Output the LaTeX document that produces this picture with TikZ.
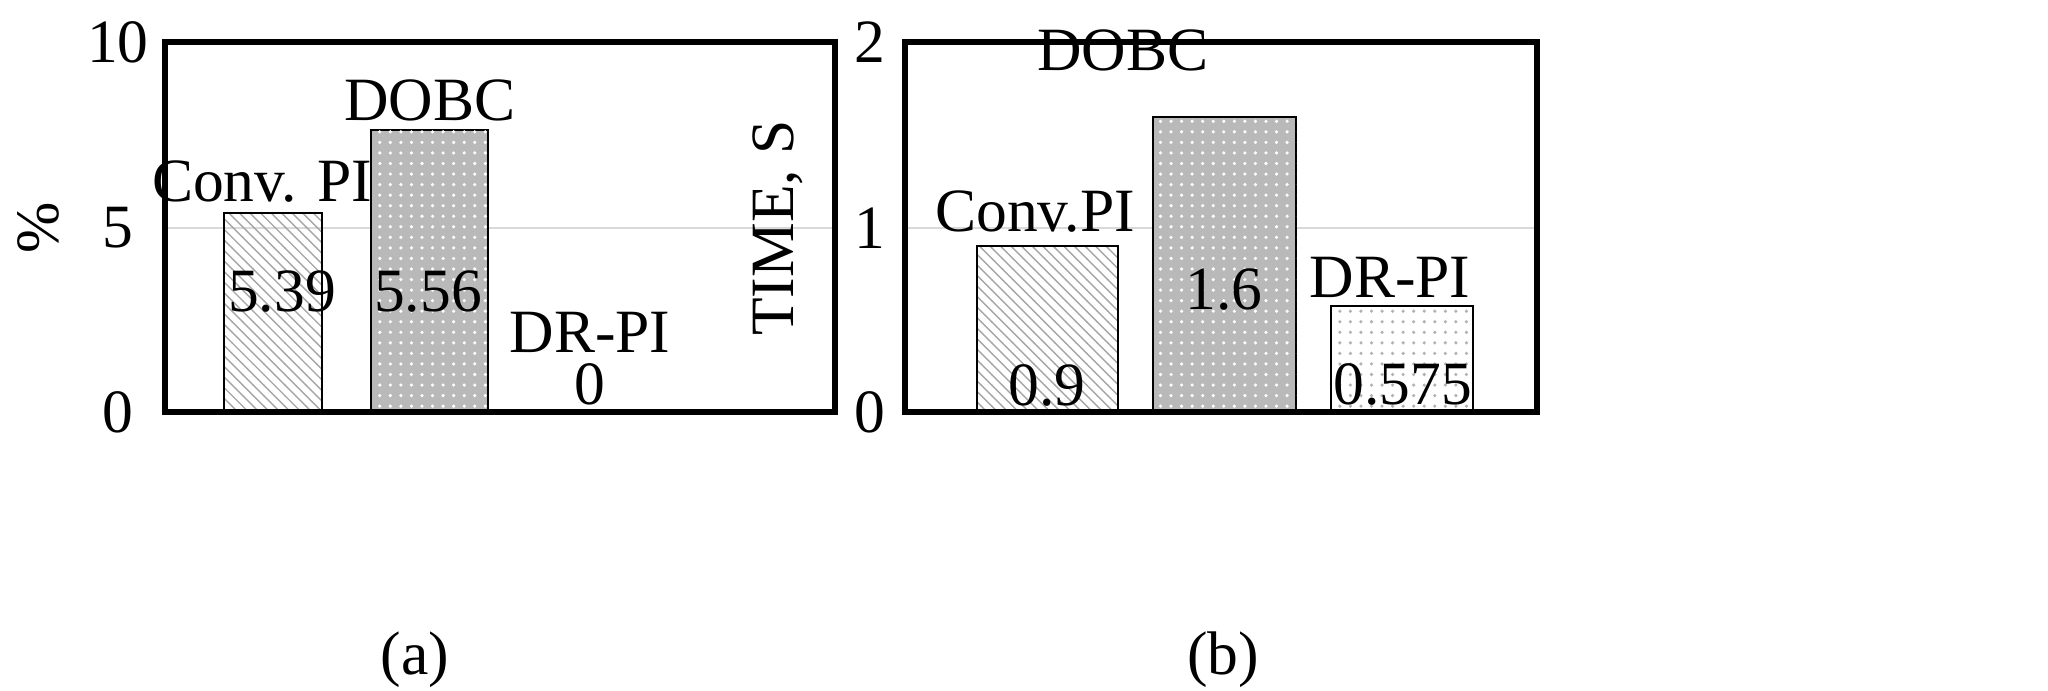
\documentclass[tikz,border=0pt]{standalone}
\usepackage{fontspec}
\setmainfont{Liberation Serif}
\usetikzlibrary{patterns}
\begin{document}
\begin{tikzpicture}[x=0.01cm,y=-0.01cm,
 lbl/.style={font=\fontsize{17.5}{20}\selectfont,inner sep=0},
 frame/.style={line width=1.6pt},
 bar/.style={draw=black,line width=0.6pt},
 hatch/.style={bar,pattern=north west lines,pattern color=gray!70},
 dobc/.style={bar,fill=gray!55,postaction={pattern=dots,pattern color=white}},
 lightdots/.style={bar,postaction={pattern=dots,pattern color=gray!60}},
 grid/.style={gray!30,line width=0.5pt}]
\useasboundingbox (0,0) rectangle (2048,691);
% panel a
\draw[grid] (165,228) -- (835,228);
\draw[hatch] (224,412) rectangle (322,213);
\draw[dobc] (371,412) rectangle (488,130);
\draw[frame] (165,42) rectangle (835,412);
\node[lbl] (a10) at (118,42) {10};
\node[lbl] (a5) at (118,228) {5};
\node[lbl] (a0) at (118,412) {0};
\node[lbl,rotate=90] (ay) at (38,228) {\%};
\node[lbl] (ca) at (262,182) {Conv. PI};
\node[lbl] (da) at (430,100) {DOBC};
\node[lbl] (v1) at (282,292) {5.39};
\node[lbl] (v2) at (428,292) {5.56};
\node[lbl] (ra) at (590,332) {DR-PI};
\node[lbl] (v3) at (590,384) {0};
\node[lbl] (capa) at (415,660) {(a)};
% panel b
\draw[grid] (905,228) -- (1537,228);
\draw[hatch] (977,412) rectangle (1118,246);
\draw[dobc] (1153,412) rectangle (1296,117);
\draw[lightdots] (1331,412) rectangle (1473,306);
\draw[frame] (905,42) rectangle (1537,412);
\node[lbl] (b2) at (870,42) {2};
\node[lbl] (b1) at (870,228) {1};
\node[lbl] (b0) at (870,412) {0};
\node[lbl,rotate=90] (by) at (778,228) {TIME, S};
\node[lbl] (cb) at (1035,212) {Conv.PI};
\node[lbl] (db) at (1123,50) {DOBC};
\node[lbl] (w2) at (1224,290) {1.6};
\node[lbl] (w1) at (1047,385) {0.9};
\node[lbl] (rb) at (1390,277) {DR-PI};
\node[lbl] (w3) at (1403,384) {0.575};
\node[lbl] (capb) at (1223,660) {(b)};
\end{tikzpicture}
\end{document}
